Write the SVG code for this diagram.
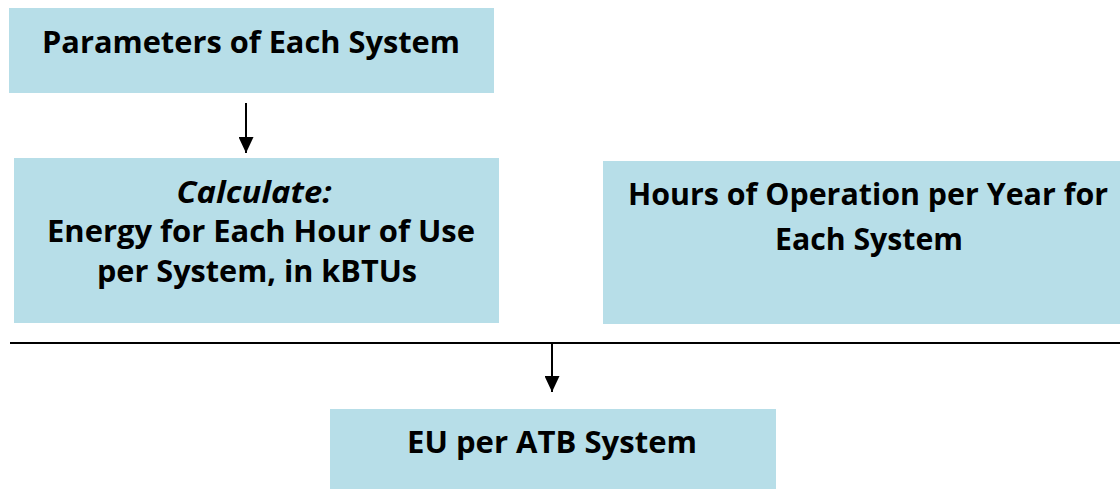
<svg xmlns="http://www.w3.org/2000/svg" width="1120" height="489" viewBox="0 0 1120 489">
<style>
.box{fill:#B7DEE8;stroke:none}
.t{font-family:"Open Sans","Liberation Sans",sans-serif;font-weight:bold;font-size:31px;fill:#000;text-anchor:middle}
.i{font-style:italic}
.c{stroke:#000;stroke-width:2;fill:none}
</style>
<defs>
<marker id="ah" viewBox="0 0 16 15" markerWidth="16" markerHeight="15" refX="16" refY="7.5" orient="auto" markerUnits="userSpaceOnUse">
<path d="M0,0 L16,7.5 L0,15 z" fill="#000"/>
</marker>
</defs>
<rect width="1120" height="489" fill="#fff"/>
<g id="n1">
<rect class="box" x="9" y="8" width="485" height="85"/>
<text class="t" x="251" y="53" textLength="418" lengthAdjust="spacingAndGlyphs">Parameters of Each System</text>
</g>
<g id="n2">
<rect class="box" x="14" y="158" width="485" height="165"/>
<text class="t i" x="254" y="203" textLength="155" lengthAdjust="spacingAndGlyphs">Calculate:</text>
<text class="t" x="261" y="242" textLength="428" lengthAdjust="spacingAndGlyphs">Energy for Each Hour of Use</text>
<text class="t" x="257" y="282" textLength="320" lengthAdjust="spacingAndGlyphs">per System, in kBTUs</text>
</g>
<g id="n3">
<rect class="box" x="603" y="161" width="530" height="163"/>
<text class="t" x="868" y="205" textLength="480" lengthAdjust="spacingAndGlyphs">Hours of Operation per Year for</text>
<text class="t" x="869" y="250" textLength="188" lengthAdjust="spacingAndGlyphs">Each System</text>
</g>
<g id="n4">
<rect class="box" x="330" y="409" width="446" height="80"/>
<text class="t" x="552" y="453" textLength="290" lengthAdjust="spacingAndGlyphs">EU per ATB System</text>
</g>
<g id="connectors">
<line class="c" x1="246" y1="103" x2="246" y2="153" marker-end="url(#ah)"/>
<line class="c" x1="10" y1="343" x2="1120" y2="343"/>
<line class="c" x1="552" y1="343" x2="552" y2="392" marker-end="url(#ah)"/>
</g>
</svg>
